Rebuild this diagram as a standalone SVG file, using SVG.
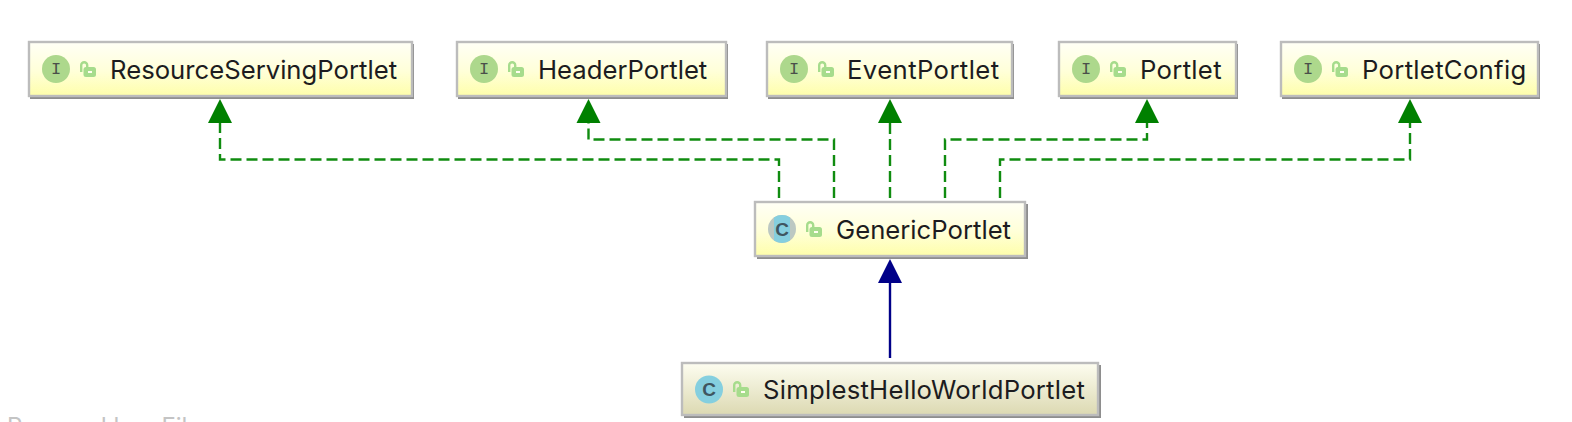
<svg xmlns="http://www.w3.org/2000/svg" width="1572" height="422" viewBox="0 0 1572 422">
<style>
text{font-family:"Inter","Liberation Sans",sans-serif}
.n{font-size:25.7px;fill:#1c1c20}
.s{fill:#8e8e8e}
.b{stroke:#bcbcbc;stroke-width:2.4}
.y{fill:url(#gy)}
.k{fill:url(#gk)}
.ic{fill:#add88c}
.cc{fill:#85cfdf}
.g{font-size:17px;fill:#4a4f4a;text-anchor:middle;font-family:"Liberation Mono",monospace}
.gc{font-size:19px;fill:#3f5560;text-anchor:middle;font-family:"Liberation Sans",sans-serif;font-weight:bold}
.d{fill:none;stroke:#108c10;stroke-width:2.4;stroke-dasharray:11 5}
.ah{fill:#008000}
.lk{fill:none;stroke:#a6dc8c;stroke-width:2.4}
.lb{fill:#a6dc8c}
</style>
<defs>
<linearGradient id="gy" x1="0" y1="0" x2="0" y2="1"><stop offset="0" stop-color="#fffff6"/><stop offset="0.55" stop-color="#ffffd8"/><stop offset="1" stop-color="#fefeaa"/></linearGradient>
<linearGradient id="gk" x1="0" y1="0" x2="0" y2="1"><stop offset="0" stop-color="#fdfdf0"/><stop offset="1" stop-color="#dcd9b2"/></linearGradient>
<clipPath id="cr"><rect x="774" y="214" width="16" height="30"/></clipPath>
<g id="lock"><path class="lk" d="M1.2 11V4.2a3 3 0 0 1 6 0V7"/><rect class="lb" x="3.5" y="6" width="12.5" height="10" rx="2.5"/><rect x="8" y="10" width="4" height="2" fill="#fffff0"/></g>
</defs>
<g id="connectors">
<path class="d" d="M779 198V159.500H220V120"/>
<path class="d" d="M834 198V139.500H588.500V120"/>
<path class="d" d="M890 198V120"/>
<path class="d" d="M945 198V139.500H1147V120"/>
<path class="d" d="M1000 198V159.500H1410V120"/>
<path d="M890 358V280" fill="none" stroke="#000088" stroke-width="2.4"/>
<polygon class="ah" points="220,99 208,123 232,123"/>
<polygon class="ah" points="588.500,99 576.500,123 600.500,123"/>
<polygon class="ah" points="890,99 878,123 902,123"/>
<polygon class="ah" points="1147,99 1135,123 1159,123"/>
<polygon class="ah" points="1410,99 1398,123 1422,123"/>
<polygon points="890,259 878,283 902,283" fill="#000088"/>
</g>
<g id="resourceServingPortlet">
<rect class="s" x="30" y="44" width="384" height="55"/><rect class="b y" x="29" y="42" width="383" height="54"/>
<circle class="ic" cx="56" cy="69" r="14"/><text class="g" x="56" y="74">I</text>
<use href="#lock" x="80" y="61"/>
<text class="n" x="110" y="78.500">ResourceServingPortlet</text>
</g>
<g id="headerPortlet">
<rect class="s" x="458" y="44" width="270" height="55"/><rect class="b y" x="457" y="42" width="269" height="54"/>
<circle class="ic" cx="484" cy="69" r="14"/><text class="g" x="484" y="74">I</text>
<use href="#lock" x="508" y="61"/>
<text class="n" x="538" y="78.500">HeaderPortlet</text>
</g>
<g id="eventPortlet">
<rect class="s" x="768" y="44" width="246" height="55"/><rect class="b y" x="767" y="42" width="245" height="54"/>
<circle class="ic" cx="794" cy="69" r="14"/><text class="g" x="794" y="74">I</text>
<use href="#lock" x="818" y="61"/>
<text class="n" x="847" y="78.500" letter-spacing="0.4">EventPortlet</text>
</g>
<g id="portlet">
<rect class="s" x="1060" y="44" width="178" height="55"/><rect class="b y" x="1059" y="42" width="177" height="54"/>
<circle class="ic" cx="1086" cy="69" r="14"/><text class="g" x="1086" y="74">I</text>
<use href="#lock" x="1110" y="61"/>
<text class="n" x="1140" y="78.500" letter-spacing="0.3">Portlet</text>
</g>
<g id="portletConfig">
<rect class="s" x="1282" y="44" width="258" height="55"/><rect class="b y" x="1281" y="42" width="257" height="54"/>
<circle class="ic" cx="1308" cy="69" r="14"/><text class="g" x="1308" y="74">I</text>
<use href="#lock" x="1332" y="61"/>
<text class="n" x="1362" y="78.500" letter-spacing="0.3">PortletConfig</text>
</g>
<g id="genericPortlet">
<rect class="s" x="757" y="204" width="271" height="55"/><rect class="b y" x="755" y="202" width="270" height="54"/>
<circle cx="782" cy="229" r="14" fill="#bcc8c2"/><circle class="cc" cx="782" cy="229" r="14" clip-path="url(#cr)"/><text class="gc" x="782" y="235.500">C</text>
<use href="#lock" x="806" y="221"/>
<text class="n" x="836" y="238.500">GenericPortlet</text>
</g>
<g id="simplestHelloWorldPortlet">
<rect class="s" x="684" y="365" width="417" height="53"/><rect class="b k" x="682" y="363" width="416" height="52"/>
<circle class="cc" cx="709" cy="389.500" r="14"/><text class="gc" x="709" y="396">C</text>
<use href="#lock" x="733" y="381"/>
<text class="n" x="763" y="398.500" letter-spacing="0.25">SimplestHelloWorldPortlet</text>
</g>
<text x="7" y="435" font-size="24" fill="#c4c4c4">Powered by yFiles</text>
</svg>
